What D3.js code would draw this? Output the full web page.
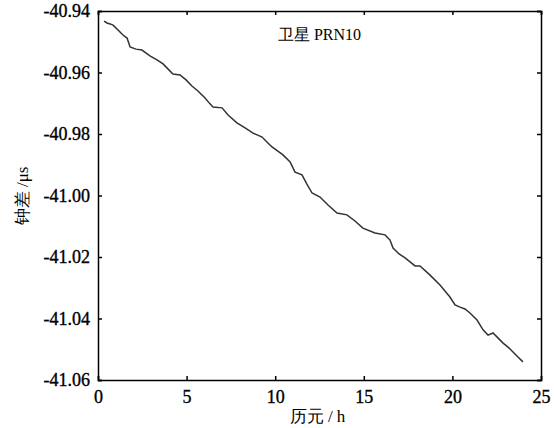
<!DOCTYPE html>
<html><head><meta charset="utf-8">
<script src="https://cdn.jsdelivr.net/npm/d3@7"></script>
<style>
html,body{margin:0;padding:0;background:#fff;}
svg{display:block;}
text{font-family:"Liberation Serif","Times New Roman",serif;fill:#000;}
</style></head>
<body><svg id="c" width="554" height="428"></svg>
<script>
const hours = [0.34,0.51,0.68,0.85,1.13,1.41,1.64,1.81,2.14,2.48,2.93,3.33,3.67,3.89,4.23,4.63,4.97,5.30,5.64,6.04,6.32,6.49,7.00,7.34,7.84,8.30,8.75,9.26,9.59,9.82,10.44,10.84,11.12,11.51,11.79,12.08,12.53,12.98,13.49,14.05,14.50,14.95,15.63,16.20,16.48,16.65,16.99,17.33,17.61,17.89,18.17,18.74,19.30,19.86,20.15,20.43,20.71,20.99,21.39,21.73,22.01,22.29,22.57,22.86,23.14,23.42,23.70,23.98];
const clockBias = [-40.9433,-40.9439,-40.9442,-40.9446,-40.9462,-40.9478,-40.9488,-40.9517,-40.9524,-40.9527,-40.9546,-40.9559,-40.9572,-40.9585,-40.9605,-40.9608,-40.9624,-40.9644,-40.9660,-40.9683,-40.9702,-40.9712,-40.9715,-40.9738,-40.9764,-40.9780,-40.9797,-40.9810,-40.9829,-40.9842,-40.9868,-40.9891,-40.9924,-40.9933,-40.9963,-40.9992,-41.0005,-41.0031,-41.0057,-41.0063,-41.0083,-41.0106,-41.0122,-41.0128,-41.0145,-41.0171,-41.0190,-41.0203,-41.0216,-41.0229,-41.0229,-41.0259,-41.0291,-41.0330,-41.0356,-41.0363,-41.0369,-41.0382,-41.0405,-41.0437,-41.0454,-41.0447,-41.0463,-41.0480,-41.0493,-41.0509,-41.0525,-41.0541];
const xTicks = [0,5,10,15,20,25];
const yTicks = [-40.94,-40.96,-40.98,-41.00,-41.02,-41.04,-41.06];
const title = "卫星 PRN10";
const xLabel = "历元 / h";
const yLabel = "钟差 /μs";

const svg = d3.select("#c");
const L=98, R=541, T=11, B=380;
const x = d3.scaleLinear().domain([0,25]).range([L,R]);
const y = d3.scaleLinear().domain([-41.06,-40.94]).range([B,T]);

// data line
const data = hours.map((h,i)=>[h,clockBias[i]]);
svg.append("path").datum(data)
  .attr("fill","none").attr("stroke","#333").attr("stroke-width",1.5)
  .attr("d", d3.line().x(d=>x(d[0])).y(d=>y(d[1])));

// axes (ticks inward, mirrored)
const fs = "18px";
const gB = svg.append("g").attr("transform",`translate(0,${B})`)
  .call(d3.axisBottom(x).tickValues(xTicks).tickSize(-4).tickPadding(10).tickFormat(d3.format("d")));
const gT = svg.append("g").attr("transform",`translate(0,${T})`)
  .call(d3.axisTop(x).tickValues(xTicks).tickSize(-4).tickFormat(""));
const gL = svg.append("g").attr("transform",`translate(${L},0)`)
  .call(d3.axisLeft(y).tickValues(yTicks).tickSize(-4).tickPadding(8).tickFormat(d=>d3.format(".2f")(d).replace("−","-")));
const gR = svg.append("g").attr("transform",`translate(${R},0)`)
  .call(d3.axisRight(y).tickValues(yTicks).tickSize(-4).tickFormat(""));
[gB,gT,gL,gR].forEach(g=>{
  g.select(".domain").attr("stroke","#000").attr("stroke-width",1.5);
  g.selectAll(".tick line").attr("stroke","#000").attr("stroke-width",1.5);
  g.selectAll("text").style("font-family",'"Liberation Serif",serif').style("font-size",fs)
    .attr("fill","#000").attr("stroke","#000").attr("stroke-width",0.35);
});

svg.append("text").attr("x",(L+R)/2).attr("y",40).attr("text-anchor","middle")
  .style("font-size","16px").text(title);
svg.append("text").attr("x",(L+R)/2-2).attr("y",422).attr("text-anchor","middle")
  .style("font-size","17px").text(xLabel);
svg.append("text").attr("transform","translate(28,196) rotate(-90)").attr("text-anchor","middle")
  .style("font-size","17px").text(yLabel);
</script></body></html>
